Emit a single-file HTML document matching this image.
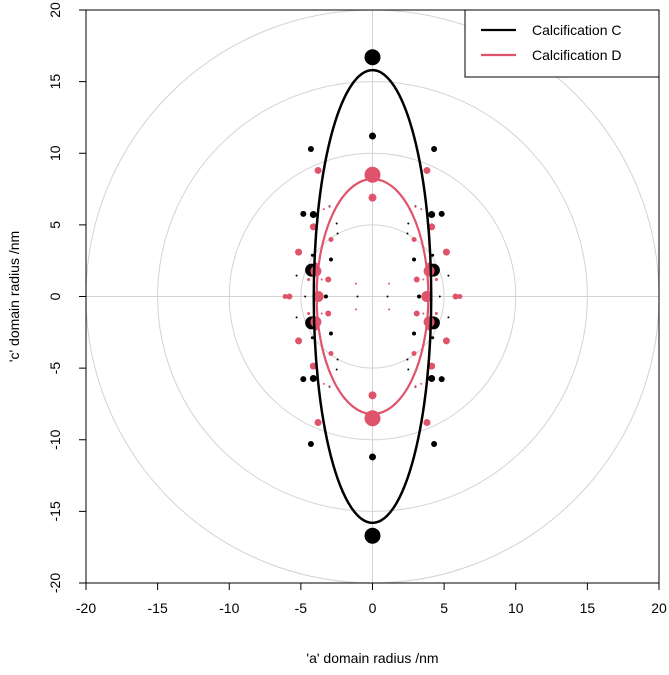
<!DOCTYPE html>
<html><head><meta charset="utf-8"><style>
body{margin:0;background:#fff}
svg{font-family:"Liberation Sans",Arial,sans-serif}
</style></head><body>
<svg id="chart" width="669" height="670" viewBox="0 0 669 670"></svg>
<script>
// Data (first quadrant points, mirrored into all quadrants)
const seriesNames = ["Calcification C","Calcification D"];
const seriesColors = ["#000000","#DF536B"];
const ellipseA = [4.1, 3.9];
const ellipseC = [15.8, 8.2];
const cX = [0, 0, 4.3, 4.13, 4.83, 4.25, 2.9, 4.2, 3.25, 2.5, 2.44, 5.3, 1.05, 4.7, 3.0];
const cY = [16.7, 11.2, 10.3, 5.72, 5.77, 1.84, 2.58, 2.88, 0, 5.1, 4.4, 1.46, 0, 0, 6.3];
const cR = [8, 3.5, 3, 3.5, 3, 6.5, 2, 1.5, 2, 1, 1, 1, 1, 1, 1];
const dX = [0, 0, 3.8, 4.13, 2.9, 5.16, 3.95, 3.09, 3.79, 5.8, 6.1, 3.0, 3.4, 3.95, 3.55, 4.46, 1.16];
const dY = [8.5, 6.9, 8.8, 4.86, 3.98, 3.1, 1.77, 1.19, 0, 0, 0, 6.26, 6.1, 2.23, 1.19, 1.19, 0.9];
const dR = [8, 4, 3.5, 3.5, 2.5, 3.5, 5.5, 3, 5.5, 3, 2.5, 1, 1, 2, 1, 1.5, 1];
const xTicks = [-20,-15,-10,-5,0,5,10,15,20];
const yTicks = [-20,-15,-10,-5,0,5,10,15,20];
const gridRadii = [5,10,15,20];

const L=86, R=659, T=10, B=583;
const sx = v => L + (v+20)/40*(R-L);
const sy = v => B - (v+20)/40*(B-T);
const kx = (R-L)/40, ky=(B-T)/40;
const svg = document.getElementById('chart');
const NS='http://www.w3.org/2000/svg';
function mk(tag, attrs, parent){const e=document.createElementNS(NS,tag);for(const k in attrs)e.setAttribute(k,attrs[k]);(parent||svg).appendChild(e);return e;}

const clip = mk('clipPath',{id:'pc'}); mk('rect',{x:L,y:T,width:R-L,height:B-T},clip);
const plot = mk('g',{'clip-path':'url(#pc)'});


gridRadii.forEach(r=>{
  const c=mk('ellipse',{cx:sx(0),cy:sy(0),rx:r*kx,ry:r*ky,fill:'none',stroke:'#d3d3d3','stroke-width':1},plot);
  
  
});
let gl=mk('line',{x1:L,x2:R,y1:sy(0),y2:sy(0),stroke:'#d3d3d3'},plot);


gl=mk('line',{x1:sx(0),x2:sx(0),y1:T,y2:B,stroke:'#d3d3d3'},plot);



function points(X,Y,Rs,color,name){
  const g=mk('g',{},plot);
  
  
  X.forEach((x,i)=>{
    const set=new Set();
    [[1,1],[1,-1],[-1,1],[-1,-1]].forEach(([a,b])=>{
      const key=(a*x)+','+(b*Y[i]); if(set.has(key))return; set.add(key);
      const c=mk('circle',{cx:sx(a*x),cy:sy(b*Y[i]),r:Rs[i],fill:color},g);
      
      
    });
  });
}
points(cX,cY,cR,seriesColors[0],'calcification-c');
points(dX,dY,dR,seriesColors[1],'calcification-d');
ellipseA.forEach((a,i)=>{
  const e=mk('ellipse',{cx:sx(0),cy:sy(0),rx:a*kx,ry:ellipseC[i]*ky,fill:'none',stroke:seriesColors[i],'stroke-width':i?2.2:2.5},plot);
  
  
});

const box=mk('rect',{x:L,y:T,width:R-L,height:B-T,fill:'none',stroke:'#000'});


xTicks.forEach(t=>{
  mk('line',{x1:sx(t),x2:sx(t),y1:B,y2:B+7,stroke:'#000'});
  const tx=mk('text',{x:sx(t),y:B+30,'text-anchor':'middle','font-size':14,fill:'#000'});
  tx.textContent=t;
  
  
});
yTicks.forEach(t=>{
  mk('line',{x1:L-7,x2:L,y1:sy(t),y2:sy(t),stroke:'#000'});
  const tx=mk('text',{x:0,y:0,transform:`translate(${L-26},${sy(t)}) rotate(-90)`,'text-anchor':'middle','font-size':14,fill:'#000'});
  tx.textContent=t;
  
  
});
let t=mk('text',{x:(L+R)/2,y:663,'text-anchor':'middle','font-size':14});
t.textContent="'a' domain radius /nm";


t=mk('text',{x:0,y:0,transform:`translate(19,${(T+B)/2}) rotate(-90)`,'text-anchor':'middle','font-size':14});
t.textContent="'c' domain radius /nm";



const lg=mk('g',{});


mk('rect',{x:465,y:10,width:194,height:67,fill:'#fff',stroke:'#000'},lg);
seriesNames.forEach((n,i)=>{
  const y=30+i*25;
  const ln=mk('line',{x1:481,x2:516,y1:y,y2:y,stroke:seriesColors[i],'stroke-width':2.2},lg);
  
  
  const tx=mk('text',{x:532,y:y+5,'font-size':14},lg);
  tx.textContent=n;
  
  
});
</script>
</body></html>
